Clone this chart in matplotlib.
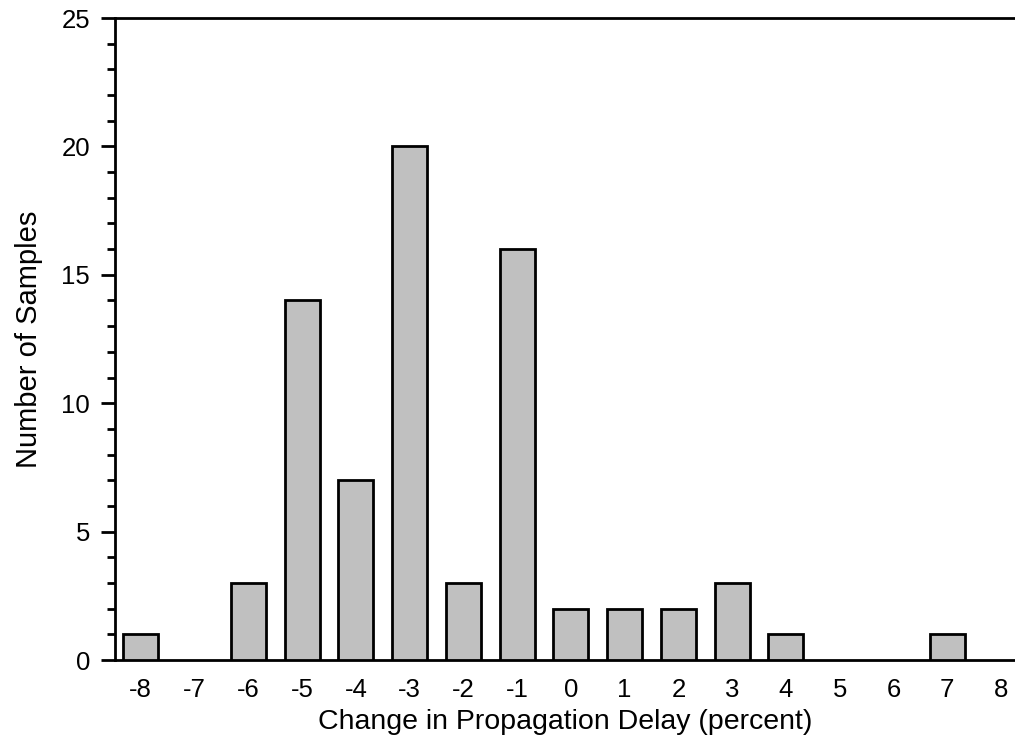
import matplotlib.pyplot as plt
from matplotlib.ticker import MultipleLocator

delay = [-8, -7, -6, -5, -4, -3, -2, -1, 0, 1, 2, 3, 4, 5, 6, 7, 8]
samples = [1, 0, 3, 14, 7, 20, 3, 16, 2, 2, 2, 3, 1, 0, 0, 1, 0]

plt.rcParams['font.family'] = ['Liberation Sans', 'DejaVu Sans']

fig = plt.figure(figsize=(10.15, 7.35), dpi=100)
ax = fig.add_axes([115 / 1015, 75 / 735, 900 / 1015, 642 / 735])

# empty bins are not drawn
xs = [d for d, s in zip(delay, samples) if s > 0]
ys = [s for s in samples if s > 0]
ax.bar(xs, ys, width=0.65, color='#c0c0c0', edgecolor='black', linewidth=2, zorder=3)

ax.set_xlim(-8.48, 8.26)
ax.set_ylim(0, 25)
ax.set_xticks(delay)
ax.set_xticklabels([str(d) for d in delay])
ax.yaxis.set_major_locator(MultipleLocator(5))
ax.yaxis.set_minor_locator(MultipleLocator(1))

for side in ['left', 'bottom', 'top']:
    ax.spines[side].set_linewidth(2)
ax.spines['right'].set_visible(False)

ax.tick_params(axis='y', which='major', length=10, width=2, labelsize=18.5, pad=8)
ax.tick_params(axis='y', which='minor', length=6, width=2)
ax.tick_params(axis='x', length=0, labelsize=18.5, pad=13)

ax.set_xlabel('Change in Propagation Delay (percent)', fontsize=20.5, labelpad=5)
ax.set_ylabel('Number of Samples', fontsize=21, labelpad=13)

fig.savefig('out.png', dpi=100)
